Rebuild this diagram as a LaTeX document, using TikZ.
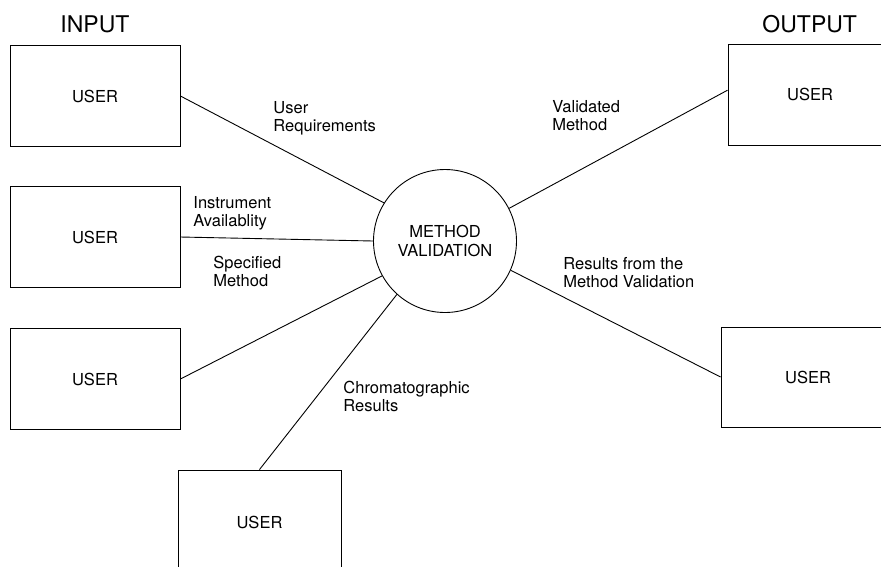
\documentclass[tikz,border=0pt]{standalone}
\usepackage{fontspec}
\setmainfont{TeX Gyre Heros}
\usetikzlibrary{positioning}

\begin{document}
\begin{tikzpicture}[
    x=1pt, y=-1pt, % pixel grid, y downwards
    line width=0.9pt,
    userbox/.style={draw, minimum width=170pt, minimum height=101pt, inner sep=0pt,
                    font=\fontsize{16.5}{19}\selectfont},
    process/.style={draw, circle, minimum size=143pt, inner sep=0pt, align=center,
                    font=\fontsize{16.5}{19}\selectfont},
    flowlabel/.style={anchor=north west, inner sep=0pt, align=left,
                      font=\fontsize{16.5}{18}\selectfont},
    heading/.style={anchor=north west, inner sep=0pt, font=\fontsize{23}{26}\selectfont}
]

  \useasboundingbox (0,0) rectangle (881,566);
  \clip (0,0) rectangle (881,566);

  % --- HEADINGS ---
  \node[heading] (input) at (60,15) {INPUT};
  \node[heading] (output) at (762,15) {OUTPUT};

  % --- INPUT USERS ---
  \node[userbox] (in1) at (95,96) {USER};
  \node[userbox] (in2) at (95,237) {USER};
  \node[userbox] (in3) at (95,379) {USER};
  \node[userbox, minimum width=163pt, minimum height=104pt] (in4) at (259.5,522) {USER};

  % --- OUTPUT USERS ---
  \node[userbox, minimum width=164pt] (out1) at (810,94.5) {USER};
  \node[userbox, minimum width=174pt, minimum height=100pt] (out2) at (808,377) {USER};

  % --- PROCESS ---
  \node[process] (mv) at (445,241) {METHOD\\VALIDATION};

  % --- DATA FLOWS ---
  \draw (in1.east) -- (mv.148);
  \draw (in2.east) -- (mv.180);
  \draw (in3.east) -- (mv.209);
  \draw (in4.north) -- (mv.228);
  \draw (mv.27) -- (out1.177);
  \draw (mv.-24) -- (out2.west);

  \node[flowlabel] (req) at (273,101) {User\\Requirements};
  \node[flowlabel] (instr) at (193,196) {Instrument\\Availablity};
  \node[flowlabel] (spec) at (213,256) {Specified\\Method};
  \node[flowlabel] (chrom) at (343,381) {Chromatographic\\Results};
  \node[flowlabel] (valid) at (552,100) {Validated\\Method};
  \node[flowlabel] (res) at (563,257) {Results from the\\Method Validation};

\end{tikzpicture}
\end{document}
